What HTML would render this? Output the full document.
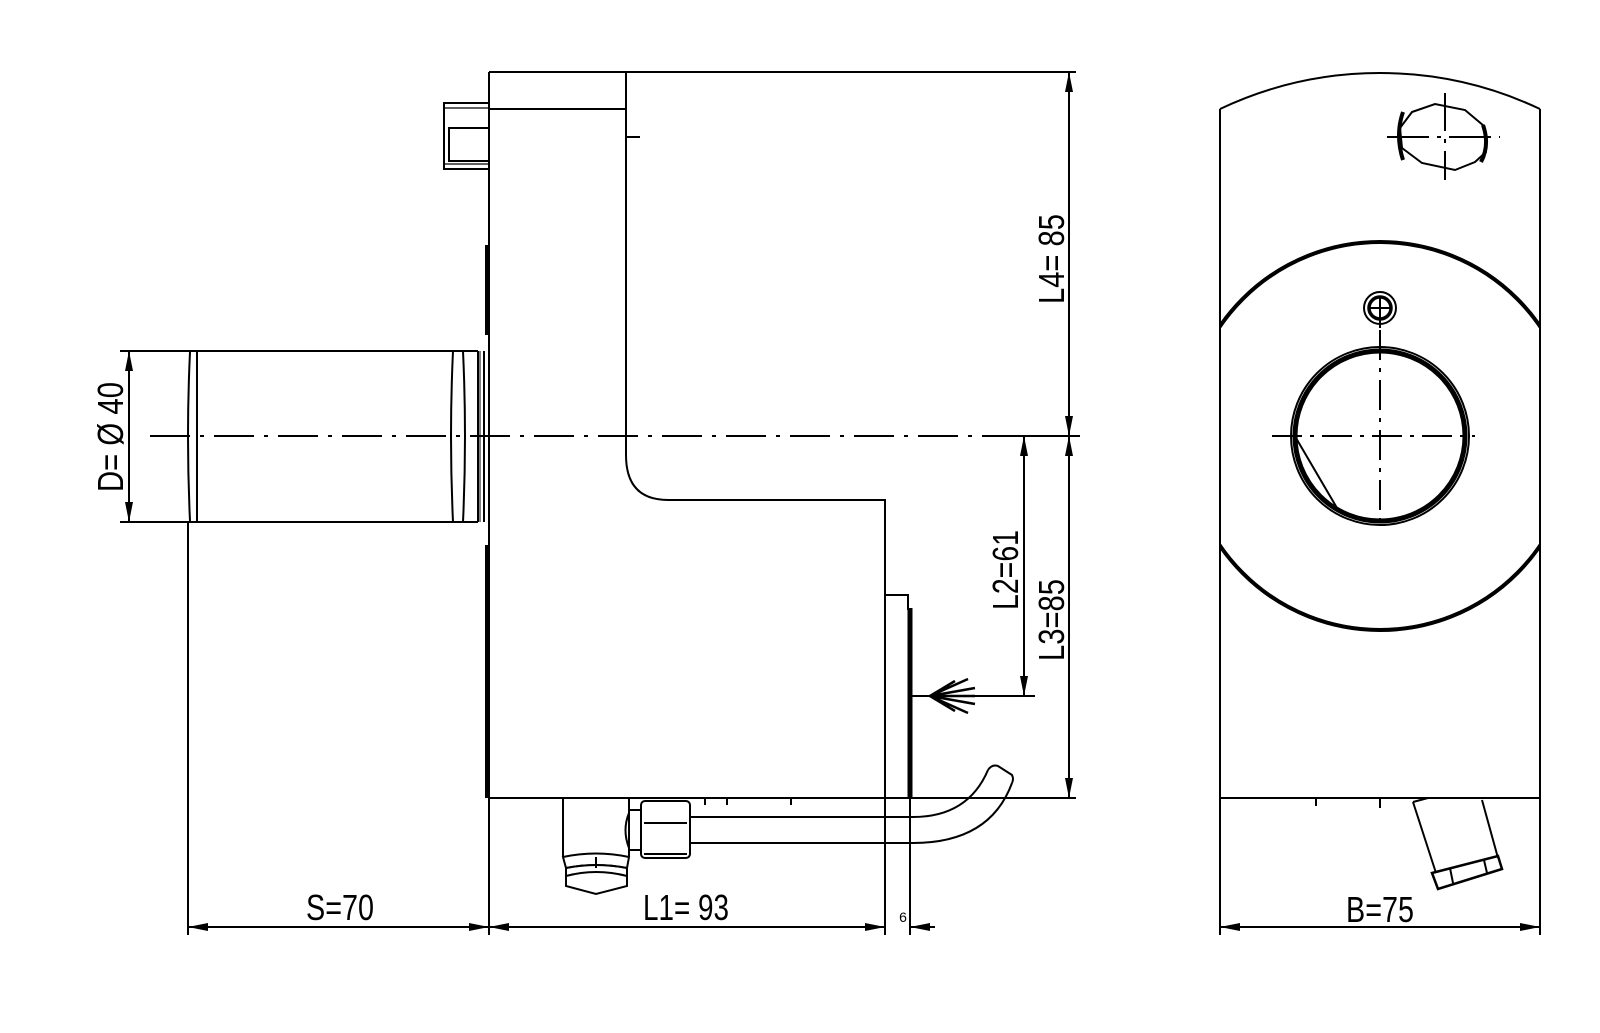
<!DOCTYPE html>
<html><head><meta charset="utf-8"><style>
html,body{margin:0;padding:0;background:#fff;}
svg{display:block;}
text{font-family:"Liberation Sans Narrow","Liberation Sans",sans-serif;fill:#000;}
</style></head><body>
<svg width="1600" height="1033" viewBox="0 0 1600 1033" xmlns="http://www.w3.org/2000/svg">
<defs>
<marker id="a" viewBox="0 0 20 8" refX="20" refY="4" markerWidth="20" markerHeight="8" markerUnits="userSpaceOnUse" orient="auto-start-reverse"><path d="M0,0 L20,4 L0,8 Z" fill="#000"/></marker>
</defs>
<g fill="none" stroke="#000" stroke-width="2">
<!-- LEFT VIEW main body -->
<path d="M489,72 H1076"/>
<path d="M489,72 V798"/>
<path d="M489,109 H626"/>
<path d="M626,72 V455 Q626,500 668,500 H885 V798"/>
<path d="M626,137 H640"/>
<path d="M489,798 H1076"/>
<path d="M487,245 V335 M487,545 V798" stroke-width="4"/>
<!-- bolt -->
<path d="M489,103 H444 V169 H489"/>
<path d="M489,128 H449 V161 H489"/>
<path d="M444,108 H489 M444,164 H489" stroke-width="1.2"/>
<!-- shaft -->
<path d="M120,351 H478 M120,522 H478"/>
<path d="M197,351 V522"/>
<path d="M190,352 Q186,436 190,521" />
<path d="M453,351 Q449,436 453,522 M463,351 Q467,436 463,522 M453,351 H463 M453,522 H463"/>
<path d="M478,351 V522 M484,351 V522"/>
<path d="M480,351 V522" stroke-width="1"/>
<path d="M188,522 V935"/>
<!-- centerline -->
<path d="M150,436 H1080" stroke-dasharray="40 10 4 10"/>
<!-- plate -->
<path d="M885,595 H908 V610"/>
<path d="M910,608 V798" stroke-width="5"/>
<!-- brush -->
<g stroke-width="2.5">
<path d="M930,696 L955,681 M930,696 L968,679 M930,696 L975,688 M930,696 L975,696 M930,696 L975,704 M930,696 L968,713 M930,696 L955,711"/>
</g>
<path d="M910,696 H1035"/>
<!-- pipe -->
<path d="M690,817 H913 Q968,817 988,770"/>
<path d="M690,843 H913 Q990,843 1012,783"/>
<path d="M988,770 Q992,764 998,766 L1012,775 Q1014,779 1012,783"/>
<!-- fitting left -->
<path d="M563,799 V857 M629,799 V857"/>
<path d="M629,810 H641 M629,850 H641"/>
<path d="M629,813 Q622,830 629,848"/>
<path d="M563,857 Q596,850 629,857 L627,868 Q596,862 566,868 Z"/>
<path d="M566,868 Q596,862 627,868 L627,876 Q596,868 566,876 Z M566,876 V886 L596,894 L627,886 V876"/>
<path d="M596,857 V868"/>
<rect x="641" y="801" width="49" height="57" rx="4"/>
<path d="M644,823 H687 M644,854 H687"/>
<path d="M705,799 V805 M727,799 V805 M791,799 V805" />
<!-- extension lines -->
<path d="M489,798 V935 M885,798 V935 M910,798 V935"/>
<path d="M1035,436 H1076 M1076,72 V72"/>
<!-- dims bottom -->
<path d="M188,927 H489" marker-start="url(#a)" marker-end="url(#a)"/>
<path d="M489,927 H885" marker-start="url(#a)" marker-end="url(#a)"/>
<path d="M935,927 H910" marker-end="url(#a)"/>
<!-- D dim -->
<path d="M129,351 V522" marker-start="url(#a)" marker-end="url(#a)"/>
<!-- L4 / L3 / L2 -->
<path d="M1069,72 V436" marker-start="url(#a)" marker-end="url(#a)"/>
<path d="M1069,436 V798" marker-start="url(#a)" marker-end="url(#a)"/>
<path d="M1024,436 V696" marker-start="url(#a)" marker-end="url(#a)"/>
<path d="M1005,436 H1080"/>

<!-- RIGHT VIEW -->
<path d="M1220,109 A374,374 0 0 1 1540,109"/>
<path d="M1220,109 V798 M1540,109 V798 M1220,798 H1540"/>
<path d="M1220,798 V935 M1540,798 V935"/>
<path d="M1220,927 H1540" marker-start="url(#a)" marker-end="url(#a)"/>
<clipPath id="c"><rect x="1220" y="60" width="320" height="740"/></clipPath>
<circle cx="1380" cy="436" r="194" stroke-width="4" clip-path="url(#c)"/>
<circle cx="1380" cy="436" r="89" stroke-width="2"/>
<circle cx="1380" cy="436" r="85" stroke-width="5"/>
<path d="M1296,438 L1337,508"/>
<path d="M1272,436 H1475 M1380,330 V530" stroke-dasharray="30 8 4 8"/>
<circle cx="1380" cy="308" r="16"/>
<circle cx="1380" cy="308" r="11" stroke-width="3.5"/>
<path d="M1368,308 H1392 M1380,296 V328"/>
<path d="M1316,799 V806 M1380,799 V808"/>
<!-- top hole -->
<path d="M1412,112 L1435,104 L1465,110 L1484,126 L1486,152 L1475,162 L1455,170 L1422,163 L1402,148 L1400,128 Z"/>
<path d="M1403,112 Q1395,135 1403,160" stroke-width="4"/>
<path d="M1483,125 Q1490,145 1481,162" stroke-width="4"/>
<path d="M1387,137 H1500" stroke-dasharray="42 8 4 8"/>
<path d="M1445,93 V180" stroke-dasharray="38 8 4 8"/>
<!-- angled fitting -->
<path d="M1413,802 L1436,873 M1482,800 L1498,858"/>
<path d="M1413,802 L1428,798"/>
<path d="M1432,873 L1498,856 L1502,869 L1438,889 Z" stroke-width="2.5"/>
<path d="M1450,868 L1453,883 M1484,860 L1487,873"/>
</g>
<!-- texts -->
<text x="340" y="920" font-size="36" text-anchor="middle" textLength="68" lengthAdjust="spacingAndGlyphs">S=70</text>
<text x="686" y="920" font-size="36" text-anchor="middle" textLength="86" lengthAdjust="spacingAndGlyphs">L1= 93</text>
<text x="903" y="922" font-size="14" text-anchor="middle">6</text>
<text x="1380" y="922" font-size="36" text-anchor="middle" textLength="68" lengthAdjust="spacingAndGlyphs">B=75</text>
<text transform="translate(123,437) rotate(-90)" font-size="36" text-anchor="middle" textLength="110" lengthAdjust="spacingAndGlyphs">D= Ø 40</text>
<text transform="translate(1064,259) rotate(-90)" font-size="36" text-anchor="middle" textLength="90" lengthAdjust="spacingAndGlyphs">L4= 85</text>
<text transform="translate(1018,570) rotate(-90)" font-size="36" text-anchor="middle" textLength="80" lengthAdjust="spacingAndGlyphs">L2=61</text>
<text transform="translate(1064,620) rotate(-90)" font-size="36" text-anchor="middle" textLength="82" lengthAdjust="spacingAndGlyphs">L3=85</text>
</svg>
</body></html>
